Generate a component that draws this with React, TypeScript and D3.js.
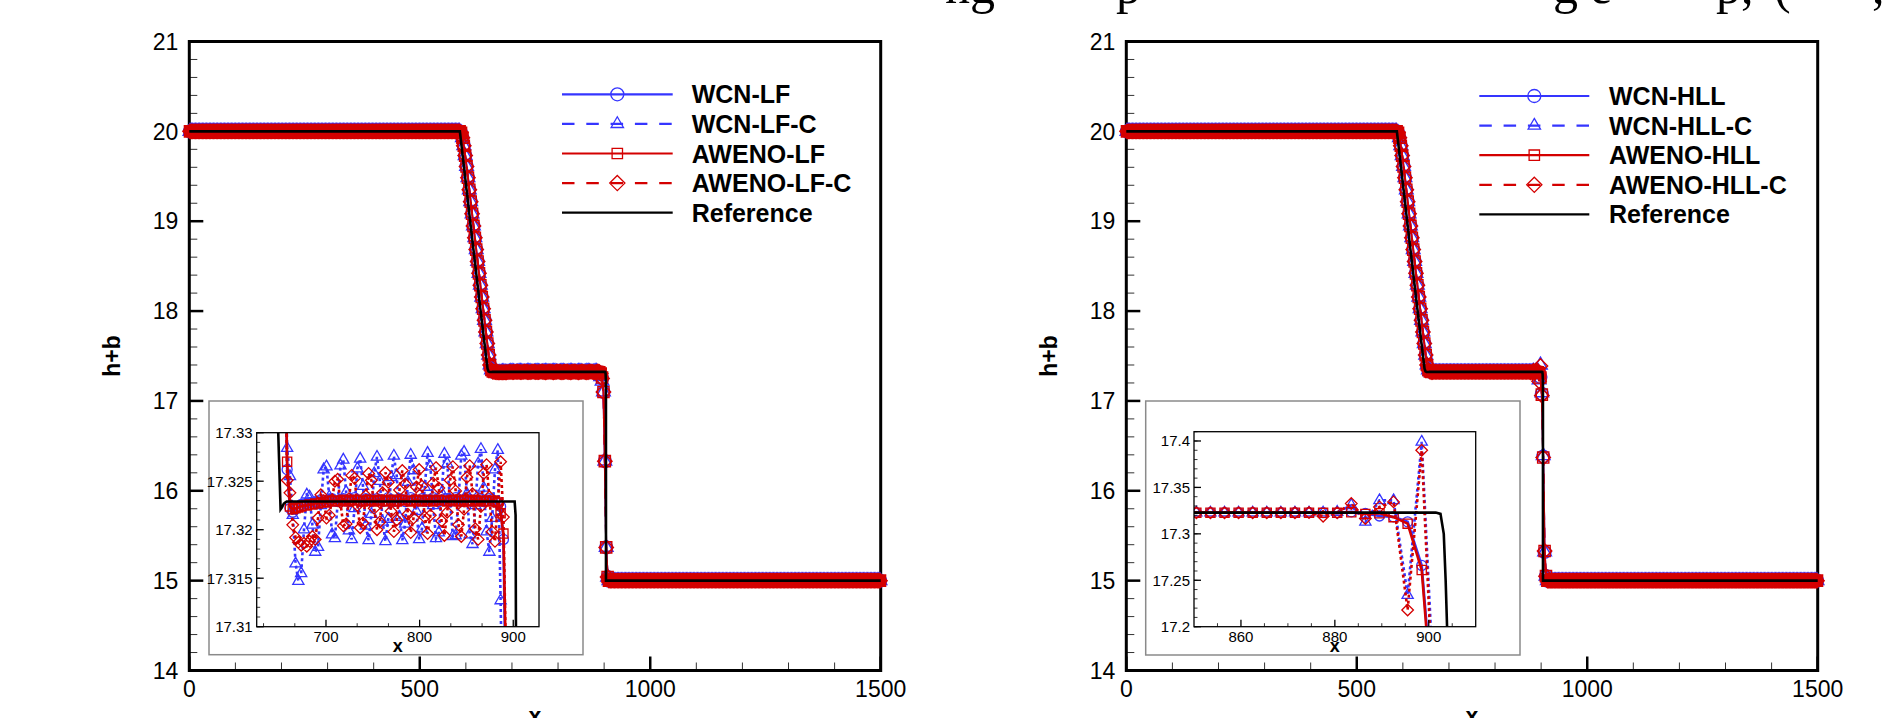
import React from "react";
import * as d3 from "d3";

type Pt = [number, number];
type Shape = "circle" | "triangle" | "square" | "diamond";

const W = 1888;
const H = 718;
const BLUE = "#3535ff";
const RED = "#d40000";
const FONT = "'Liberation Sans', Arial, Helvetica, sans-serif";
const SERIF = "'Liberation Serif', 'DejaVu Serif', serif";

// ---------------- data ----------------
// computational mesh: cell centres x = 1.5 + 3k, 500 cells on [0, 1500]
const MESH_X0 = 1.5;
const MESH_DX = 3;
const MESH_N = 500;

// constant states
const UPSTREAM_LEVEL = 20;
const MIDDLE_LEVEL = 17.3229;
const DOWNSTREAM_LEVEL = 15;
const SHOCK_X = 904;

// numerical rarefaction shared by all schemes, x = 589.5 ... 655.5
const RAREFACTION_START = 589.5;
const RAREFACTION_NUM = [
  19.985, 19.93, 19.84, 19.73, 19.61, 19.485, 19.35, 19.218, 19.083, 18.948,
  18.816, 18.684, 18.552, 18.42, 18.288, 18.156, 18.026, 17.897, 17.768, 17.639,
  17.51, 17.4, 17.345,
];

// LF schemes, x = 658.5 ... 910.5
const LF_START = 658.5;
const WCN_LF = [
  17.3262, 17.3222, 17.3218, 17.3221, 17.3224, 17.3226, 17.3225, 17.3227, 17.3228, 17.3227, 17.3229,
  17.3229, 17.3231, 17.323, 17.3229, 17.3231, 17.3232, 17.323, 17.3229, 17.3231, 17.3232,
  17.323, 17.3229, 17.3231, 17.3233, 17.3231, 17.3229, 17.323, 17.3232, 17.3231, 17.3229,
  17.323, 17.3232, 17.3231, 17.3229, 17.323, 17.3233, 17.3231, 17.3229, 17.323, 17.3232,
  17.3231, 17.3229, 17.3231, 17.3233, 17.3231, 17.3229, 17.323, 17.3232, 17.3231, 17.3229,
  17.3231, 17.3233, 17.3231, 17.3229, 17.323, 17.3232, 17.3232, 17.3229, 17.323, 17.3233,
  17.3231, 17.3229, 17.3231, 17.3233, 17.3231, 17.3229, 17.323, 17.3233, 17.3232, 17.3229,
  17.323, 17.3232, 17.3231, 17.3229, 17.3228, 17.3224, 17.319, 17.3, 17.25, 17.1,
  16.33, 15.37, 15.04, 15.0,
];
const WCN_LF_C = [
  17.3284, 17.3255, 17.3215, 17.3165, 17.3147, 17.3155, 17.32, 17.3236, 17.3234, 17.3205, 17.3177,
  17.3182, 17.3225, 17.3262, 17.3265, 17.3234, 17.3195, 17.3191, 17.3228, 17.3266, 17.3272,
  17.3239, 17.3199, 17.319, 17.3222, 17.3263, 17.3273, 17.3245, 17.3204, 17.3189, 17.3216,
  17.3258, 17.3275, 17.325, 17.3208, 17.3188, 17.3211, 17.3254, 17.3276, 17.3256, 17.3213,
  17.3189, 17.3206, 17.3249, 17.3277, 17.3261, 17.3219, 17.319, 17.3201, 17.3244, 17.3279,
  17.3265, 17.3225, 17.3191, 17.3197, 17.3238, 17.3278, 17.3268, 17.323, 17.3193, 17.3194,
  17.3232, 17.3276, 17.328, 17.3237, 17.3195, 17.3185, 17.3225, 17.3268, 17.3283, 17.3243,
  17.3198, 17.3177, 17.3212, 17.3262, 17.3282, 17.3127, 17.295, 17.27, 17.22, 17.1,
  16.33, 15.37, 15.04, 15.0,
];
const AWENO_LF = [
  17.327, 17.3224, 17.3221, 17.3222, 17.3223, 17.3224, 17.3225, 17.3225, 17.3226, 17.3226, 17.3227,
  17.3227, 17.3228, 17.3228, 17.3229, 17.3229, 17.323, 17.323, 17.3229, 17.323, 17.3231,
  17.323, 17.3229, 17.323, 17.3231, 17.323, 17.323, 17.3229, 17.323, 17.3231, 17.323,
  17.3229, 17.323, 17.3231, 17.323, 17.3229, 17.323, 17.3231, 17.323, 17.3229, 17.323,
  17.3231, 17.323, 17.323, 17.3229, 17.323, 17.3231, 17.323, 17.3229, 17.323, 17.3231,
  17.323, 17.3229, 17.323, 17.3231, 17.323, 17.323, 17.3229, 17.323, 17.3231, 17.323,
  17.3229, 17.323, 17.3231, 17.323, 17.3229, 17.323, 17.3231, 17.323, 17.3229, 17.323,
  17.323, 17.3229, 17.323, 17.3229, 17.3228, 17.3217, 17.3196, 17.305, 17.26, 17.1,
  16.33, 15.37, 15.04, 15.0,
];
const AWENO_LF_C = [
  17.3251, 17.3238, 17.3205, 17.3192, 17.3187, 17.3184, 17.3186, 17.3183, 17.3188, 17.3193, 17.319,
  17.3212, 17.3236, 17.323, 17.3212, 17.3215, 17.3231, 17.325, 17.3252, 17.3228, 17.3204,
  17.3206, 17.3232, 17.3256, 17.3253, 17.3225, 17.3202, 17.3207, 17.3235, 17.3258, 17.3251,
  17.3222, 17.32, 17.3208, 17.3238, 17.3259, 17.3249, 17.3219, 17.3198, 17.321, 17.3241,
  17.3261, 17.3247, 17.3216, 17.3197, 17.3212, 17.3244, 17.3262, 17.3245, 17.3213, 17.3196,
  17.3215, 17.3248, 17.3264, 17.3243, 17.3209, 17.3194, 17.3218, 17.3251, 17.3265, 17.324,
  17.3205, 17.3193, 17.3221, 17.3254, 17.3266, 17.3237, 17.3201, 17.319, 17.3224, 17.3258,
  17.3267, 17.3234, 17.3198, 17.3188, 17.3228, 17.327, 17.3213, 17.305, 17.25, 17.1,
  16.33, 15.37, 15.04, 15.0,
];

// HLL schemes: end of rarefaction x = 658.5 ... 667.5, then shock region x = 850.5 ... 913.5
const HLL_TAIL_START = 658.5;
const HLL_RARE_TAIL = [17.327, 17.3224, 17.3226, 17.3228];
const HLL_SHOCK_START = 850.5;
const WCN_HLL = [
  17.3228, 17.3228, 17.3228, 17.3228, 17.3228, 17.3228, 17.3228, 17.3228, 17.3228, 17.3228,
  17.3226, 17.3237, 17.322, 17.3192, 17.3183, 17.3129, 17.266, 17.08, 16.38, 15.32, 15.05, 15.0,
];
const WCN_HLL_C = [
  17.3228, 17.3228, 17.3228, 17.3228, 17.3228, 17.3228, 17.3228, 17.3228, 17.3228, 17.3228,
  17.3235, 17.3308, 17.3129, 17.336, 17.336, 17.234, 17.399, 17.09, 16.39, 15.32, 15.05, 15.0,
];
const AWENO_HLL = [
  17.3228, 17.3228, 17.3228, 17.3228, 17.3228, 17.3228, 17.3228, 17.3228, 17.3228, 17.3226,
  17.3226, 17.3232, 17.3215, 17.3222, 17.318, 17.311, 17.261, 17.07, 16.37, 15.33, 15.05, 15.0,
];
const AWENO_HLL_C = [
  17.3228, 17.3228, 17.3228, 17.3228, 17.3228, 17.3228, 17.3228, 17.3228, 17.323, 17.319,
  17.3228, 17.3326, 17.3165, 17.329, 17.3344, 17.218, 17.39, 17.06, 16.37, 15.33, 15.05, 15.0,
];

// reference (fine-grid) solution
const REF_X = [0, 587, 600, 610, 620, 630, 640, 647, 649, 651.5, 653, 655, 658, 901.5, 902.5, 903.2, 903.6, 903.9, 904, 1500];
const REF_H = [20, 20, 19.42, 18.97, 18.53, 18.09, 17.66, 17.36, 17.33, 17.3221, 17.3223, 17.3227, 17.3229, 17.3229, 17.3215, 17.3, 17.25, 17.2, 15, 15];

// axes
const MAIN_X_TICKS = [0, 500, 1000, 1500];
const MAIN_Y_TICKS = [14, 15, 16, 17, 18, 19, 20, 21];
const LF_INSET_X_TICKS = [700, 800, 900];
const LF_INSET_Y_TICKS = ["17.31", "17.315", "17.32", "17.325", "17.33"];
const HLL_INSET_X_TICKS = [860, 880, 900];
const HLL_INSET_Y_TICKS = ["17.2", "17.25", "17.3", "17.35", "17.4"];

const LF_NAMES = ["WCN-LF", "WCN-LF-C", "AWENO-LF", "AWENO-LF-C", "Reference"];
const HLL_NAMES = ["WCN-HLL", "WCN-HLL-C", "AWENO-HLL", "AWENO-HLL-C", "Reference"];

// fragments of the caption line cut off at the top edge (only descenders visible)
const TOP_FRAGMENTS = ["ng", "p", "g", "e", "p,", "(", ","];
const TOP_FRAGMENT_X = [945, 1116, 1553, 1590, 1716, 1774, 1872];

// ---------------- helpers ----------------
type Win = { start: number; values: number[] };

function buildSeries(windows: Win[]): Pt[] {
  return d3.range(MESH_N).map((i) => {
    const x = MESH_X0 + i * MESH_DX;
    for (const w of windows) {
      const k = Math.round((x - w.start) / MESH_DX);
      if (k >= 0 && k < w.values.length) return [x, w.values[k]] as Pt;
    }
    const h = x < RAREFACTION_START ? UPSTREAM_LEVEL : x < SHOCK_X ? MIDDLE_LEVEL : DOWNSTREAM_LEVEL;
    return [x, h] as Pt;
  });
}

const RARE: Win = { start: RAREFACTION_START, values: RAREFACTION_NUM };
const REF: Pt[] = REF_X.map((x, i) => [x, REF_H[i]] as Pt);

type Series = { color: string; dashed: boolean; shape: Shape; data: Pt[] };

const LF_SERIES: Series[] = [
  { color: BLUE, dashed: false, shape: "circle", data: buildSeries([RARE, { start: LF_START, values: WCN_LF }]) },
  { color: BLUE, dashed: true, shape: "triangle", data: buildSeries([RARE, { start: LF_START, values: WCN_LF_C }]) },
  { color: RED, dashed: false, shape: "square", data: buildSeries([RARE, { start: LF_START, values: AWENO_LF }]) },
  { color: RED, dashed: true, shape: "diamond", data: buildSeries([RARE, { start: LF_START, values: AWENO_LF_C }]) },
];
const HLL_SERIES: Series[] = [
  { color: BLUE, dashed: false, shape: "circle", data: buildSeries([RARE, { start: HLL_TAIL_START, values: HLL_RARE_TAIL }, { start: HLL_SHOCK_START, values: WCN_HLL }]) },
  { color: BLUE, dashed: true, shape: "triangle", data: buildSeries([RARE, { start: HLL_TAIL_START, values: HLL_RARE_TAIL }, { start: HLL_SHOCK_START, values: WCN_HLL_C }]) },
  { color: RED, dashed: false, shape: "square", data: buildSeries([RARE, { start: HLL_TAIL_START, values: HLL_RARE_TAIL }, { start: HLL_SHOCK_START, values: AWENO_HLL }]) },
  { color: RED, dashed: true, shape: "diamond", data: buildSeries([RARE, { start: HLL_TAIL_START, values: HLL_RARE_TAIL }, { start: HLL_SHOCK_START, values: AWENO_HLL_C }]) },
];

const MAIN_SIZE: Record<Shape, number> = { circle: 6.4, triangle: 6.8, square: 5.6, diamond: 7.2 };
const INSET_SIZE: Record<Shape, number> = { circle: 5, triangle: 5.6, square: 4.6, diamond: 5.8 };
const LEG_SIZE: Record<Shape, number> = { circle: 6.5, triangle: 6.2, square: 5.2, diamond: 7.6 };

function markerPath(x: number, y: number, shape: Shape, s: number): string {
  switch (shape) {
    case "circle":
      return `M${x - s},${y}a${s},${s} 0 1,0 ${2 * s},0a${s},${s} 0 1,0 ${-2 * s},0Z`;
    case "square":
      return `M${x - s},${y - s}h${2 * s}v${2 * s}h${-2 * s}Z`;
    case "diamond":
      return `M${x},${y - s}L${x + s},${y}L${x},${y + s}L${x - s},${y}Z`;
    case "triangle": {
      const h = s * Math.sqrt(3);
      return `M${x},${y - (2 * h) / 3}L${x + s},${y + h / 3}L${x - s},${y + h / 3}Z`;
    }
  }
}

// ---------------- layout ----------------
const PLOT_W = 691.4;
const PLOT_TOP = 41.5;
const PLOT_BOTTOM = 670.5;

type InsetCfg = {
  outer: [number, number, number, number];
  inner: [number, number, number, number];
  xDomain: [number, number];
  yDomain: [number, number];
  xTicks: number[];
  xMinor: number[];
  yTicks: string[];
  yMinorStep: number;
};

type PlotCfg = {
  id: string;
  left: number;
  names: string[];
  series: Series[];
  legend: { x0: number; x1: number; xm: number; xt: number; y0: number; dy: number };
  inset: InsetCfg;
};

const LF_CFG: PlotCfg = {
  id: "lf",
  left: 189.3,
  names: LF_NAMES,
  series: LF_SERIES,
  legend: { x0: 562, x1: 672.7, xm: 617.3, xt: 691.7, y0: 94.3, dy: 29.6 },
  inset: {
    outer: [209, 401, 583, 654.7],
    inner: [256.7, 432.7, 539, 626.7],
    xDomain: [626, 927.5],
    yDomain: [17.31, 17.33],
    xTicks: LF_INSET_X_TICKS,
    xMinor: [633.3, 666.7, 733.3, 766.7, 833.3, 866.7],
    yTicks: LF_INSET_Y_TICKS,
    yMinorStep: 0.001,
  },
};

const HLL_CFG: PlotCfg = {
  id: "hll",
  left: 1126.3,
  names: HLL_NAMES,
  series: HLL_SERIES,
  legend: { x0: 1479.3, x1: 1589.3, xm: 1534.3, xt: 1609, y0: 96, dy: 29.6 },
  inset: {
    outer: [1145.7, 401, 1520, 655],
    inner: [1194, 431.7, 1475.7, 626.7],
    xDomain: [850, 910],
    yDomain: [17.2, 17.41],
    xTicks: HLL_INSET_X_TICKS,
    xMinor: [855, 865, 870, 875, 885, 890, 895, 905],
    yTicks: HLL_INSET_Y_TICKS,
    yMinorStep: 0.01,
  },
};

function SeriesLayer({ series, xs, ys, lineW, dash, filterX, sizes, mw }: any) {
  const line = d3.line<Pt>().x((d) => xs(d[0])).y((d) => ys(d[1]));
  return (
    <g>
      {series.map((s: Series, i: number) => {
        const pts = filterX ? s.data.filter((d) => filterX(d[0])) : s.data;
        const mk = pts.map((d) => markerPath(xs(d[0]), ys(d[1]), s.shape, sizes[s.shape])).join("");
        return (
          <g key={i}>
            <path d={line(pts) || ""} fill="none" stroke={s.color} strokeWidth={lineW} strokeDasharray={s.dashed ? dash : undefined} />
            <path d={mk} fill="none" stroke={s.color} strokeWidth={mw} />
          </g>
        );
      })}
    </g>
  );
}

function Inset({ cfg, series, id }: { cfg: InsetCfg; series: Series[]; id: string }) {
  const [ix0, iy0, ix1, iy1] = cfg.inner;
  const [ox0, oy0, ox1, oy1] = cfg.outer;
  const xs = d3.scaleLinear().domain(cfg.xDomain).range([ix0, ix1]);
  const ys = d3.scaleLinear().domain(cfg.yDomain).range([iy1, iy0]);
  const refLine = d3.line<Pt>().x((d) => xs(d[0])).y((d) => ys(d[1]));
  const inRange = (x: number) => x >= cfg.xDomain[0] - 12 && x <= cfg.xDomain[1] + 12;
  const refPts = REF.filter((d, i) => {
    const prev = REF[i - 1];
    const next = REF[i + 1];
    return inRange(d[0]) || (next && inRange(next[0])) || (prev && inRange(prev[0])) || (prev && next && prev[0] < cfg.xDomain[0] && next[0] > cfg.xDomain[1]);
  });
  const yMinor = d3.range(cfg.yDomain[0], cfg.yDomain[1] + 1e-9, cfg.yMinorStep);
  return (
    <g>
      <rect x={ox0} y={oy0} width={ox1 - ox0} height={oy1 - oy0} fill="#fff" stroke="#8a8a8a" strokeWidth={1.5} />
      <defs>
        <clipPath id={`clip-${id}`}>
          <rect x={ix0} y={iy0} width={ix1 - ix0} height={iy1 - iy0} />
        </clipPath>
      </defs>
      <g clipPath={`url(#clip-${id})`}>
        <SeriesLayer series={series} xs={xs} ys={ys} lineW={2.6} dash="3 3" filterX={inRange} sizes={INSET_SIZE} mw={1.3} />
        <path d={refLine(refPts) || ""} fill="none" stroke="#000" strokeWidth={2.6} />
      </g>
      <rect x={ix0} y={iy0} width={ix1 - ix0} height={iy1 - iy0} fill="none" stroke="#000" strokeWidth={1.3} />
      {yMinor.map((t, i) => (
        <line key={`ym${i}`} x1={ix0} x2={ix0 + 3.5} y1={ys(t)} y2={ys(t)} stroke="#000" strokeWidth={0.8} />
      ))}
      {cfg.yTicks.map((t) => (
        <g key={t}>
          <line x1={ix0} x2={ix0 + 7} y1={ys(+t)} y2={ys(+t)} stroke="#000" strokeWidth={1.3} />
          <text x={ix0 - 4} y={ys(+t) + 5.3} textAnchor="end" fontFamily={FONT} fontSize={15} fill="#000">
            {t}
          </text>
        </g>
      ))}
      {cfg.xMinor.map((t, i) => (
        <line key={`xm${i}`} x1={xs(t)} x2={xs(t)} y1={iy1} y2={iy1 - 3.5} stroke="#000" strokeWidth={0.8} />
      ))}
      {cfg.xTicks.map((t) => (
        <g key={t}>
          <line x1={xs(t)} x2={xs(t)} y1={iy1} y2={iy1 - 7} stroke="#000" strokeWidth={1.3} />
          <text x={xs(t)} y={iy1 + 15} textAnchor="middle" fontFamily={FONT} fontSize={15} fill="#000">
            {t}
          </text>
        </g>
      ))}
      <text x={(ix0 + ix1) / 2} y={iy1 + 25} textAnchor="middle" fontFamily={FONT} fontWeight="bold" fontSize={18} fill="#000">
        x
      </text>
    </g>
  );
}

function Plot({ cfg }: { cfg: PlotCfg }) {
  const xs = d3.scaleLinear().domain([0, 1500]).range([cfg.left, cfg.left + PLOT_W]);
  const ys = d3.scaleLinear().domain([14, 21]).range([PLOT_BOTTOM, PLOT_TOP]);
  const refLine = d3.line<Pt>().x((d) => xs(d[0])).y((d) => ys(d[1]));
  const yMinor = d3.range(14, 21.0001, 0.2);
  const xMinor = d3.range(0, 1500.1, 100);
  const L = cfg.legend;
  const legendRows: { color: string; dashed: boolean; shape: Shape | null }[] = [
    ...cfg.series.map((s) => ({ color: s.color, dashed: s.dashed, shape: s.shape as Shape | null })),
    { color: "#000", dashed: false, shape: null },
  ];
  return (
    <g>
      {/* frame & ticks */}
      {yMinor.map((t, i) => (
        <line key={`ym${i}`} x1={cfg.left} x2={cfg.left + 8} y1={ys(t)} y2={ys(t)} stroke="#333" strokeWidth={1} />
      ))}
      {xMinor.map((t, i) => (
        <line key={`xm${i}`} x1={xs(t)} x2={xs(t)} y1={PLOT_BOTTOM} y2={PLOT_BOTTOM - 8} stroke="#333" strokeWidth={1} />
      ))}
      {MAIN_Y_TICKS.map((t) => (
        <g key={`y${t}`}>
          <line x1={cfg.left} x2={cfg.left + 14} y1={ys(t)} y2={ys(t)} stroke="#000" strokeWidth={2.5} />
          <text x={cfg.left - 11} y={ys(t) + 8.2} textAnchor="end" fontFamily={FONT} fontSize={23} fill="#000">
            {t}
          </text>
        </g>
      ))}
      {MAIN_X_TICKS.map((t) => (
        <g key={`x${t}`}>
          <line x1={xs(t)} x2={xs(t)} y1={PLOT_BOTTOM} y2={PLOT_BOTTOM - 14} stroke="#000" strokeWidth={2.5} />
          <text x={xs(t)} y={696.5} textAnchor="middle" fontFamily={FONT} fontSize={23} fill="#000">
            {t}
          </text>
        </g>
      ))}
      <rect x={cfg.left} y={PLOT_TOP} width={PLOT_W} height={PLOT_BOTTOM - PLOT_TOP} fill="none" stroke="#000" strokeWidth={3} />
      <text
        transform={`translate(${cfg.left - 69},356) rotate(-90)`}
        textAnchor="middle"
        fontFamily={FONT}
        fontWeight="bold"
        fontSize={23}
        fill="#000"
      >
        h+b
      </text>
      <text x={cfg.left + PLOT_W / 2} y={724} textAnchor="middle" fontFamily={FONT} fontWeight="bold" fontSize={23} fill="#000">
        x
      </text>

      {/* data */}
      <SeriesLayer series={cfg.series} xs={xs} ys={ys} lineW={2} dash="10 8" sizes={MAIN_SIZE} mw={1.4} />
      <path d={refLine(REF) || ""} fill="none" stroke="#000" strokeWidth={2.6} />

      {/* inset */}
      <Inset cfg={cfg.inset} series={cfg.series} id={cfg.id} />

      {/* legend */}
      {legendRows.map((r, i) => {
        const y = L.y0 + i * L.dy;
        return (
          <g key={`lg${i}`}>
            <line x1={L.x0} x2={L.x1} y1={y} y2={y} stroke={r.color} strokeWidth={2.2} strokeDasharray={r.dashed ? "12.5 11.8" : undefined} />
            {r.shape && <path d={markerPath(L.xm, y, r.shape, LEG_SIZE[r.shape])} fill="none" stroke={r.color} strokeWidth={1.3} />}
            <text x={L.xt} y={y + 9} fontFamily={FONT} fontWeight="bold" fontSize={25} fill="#000">
              {cfg.names[i]}
            </text>
          </g>
        );
      })}
    </g>
  );
}

export default function App() {
  return (
    <svg
      width={W}
      height={H}
      viewBox={`0 0 ${W} ${H}`}
      style={{ position: "fixed", left: 0, top: 0, background: "#fff", display: "block" }}
    >
      <rect x={0} y={0} width={W} height={H} fill="#fff" />
      <text y={3} fontFamily={SERIF} fontSize={50} fill="#000">
        {TOP_FRAGMENTS.map((t, i) => (
          <tspan key={i} x={TOP_FRAGMENT_X[i]}>
            {t}
          </tspan>
        ))}
      </text>
      <Plot cfg={LF_CFG} />
      <Plot cfg={HLL_CFG} />
    </svg>
  );
}
